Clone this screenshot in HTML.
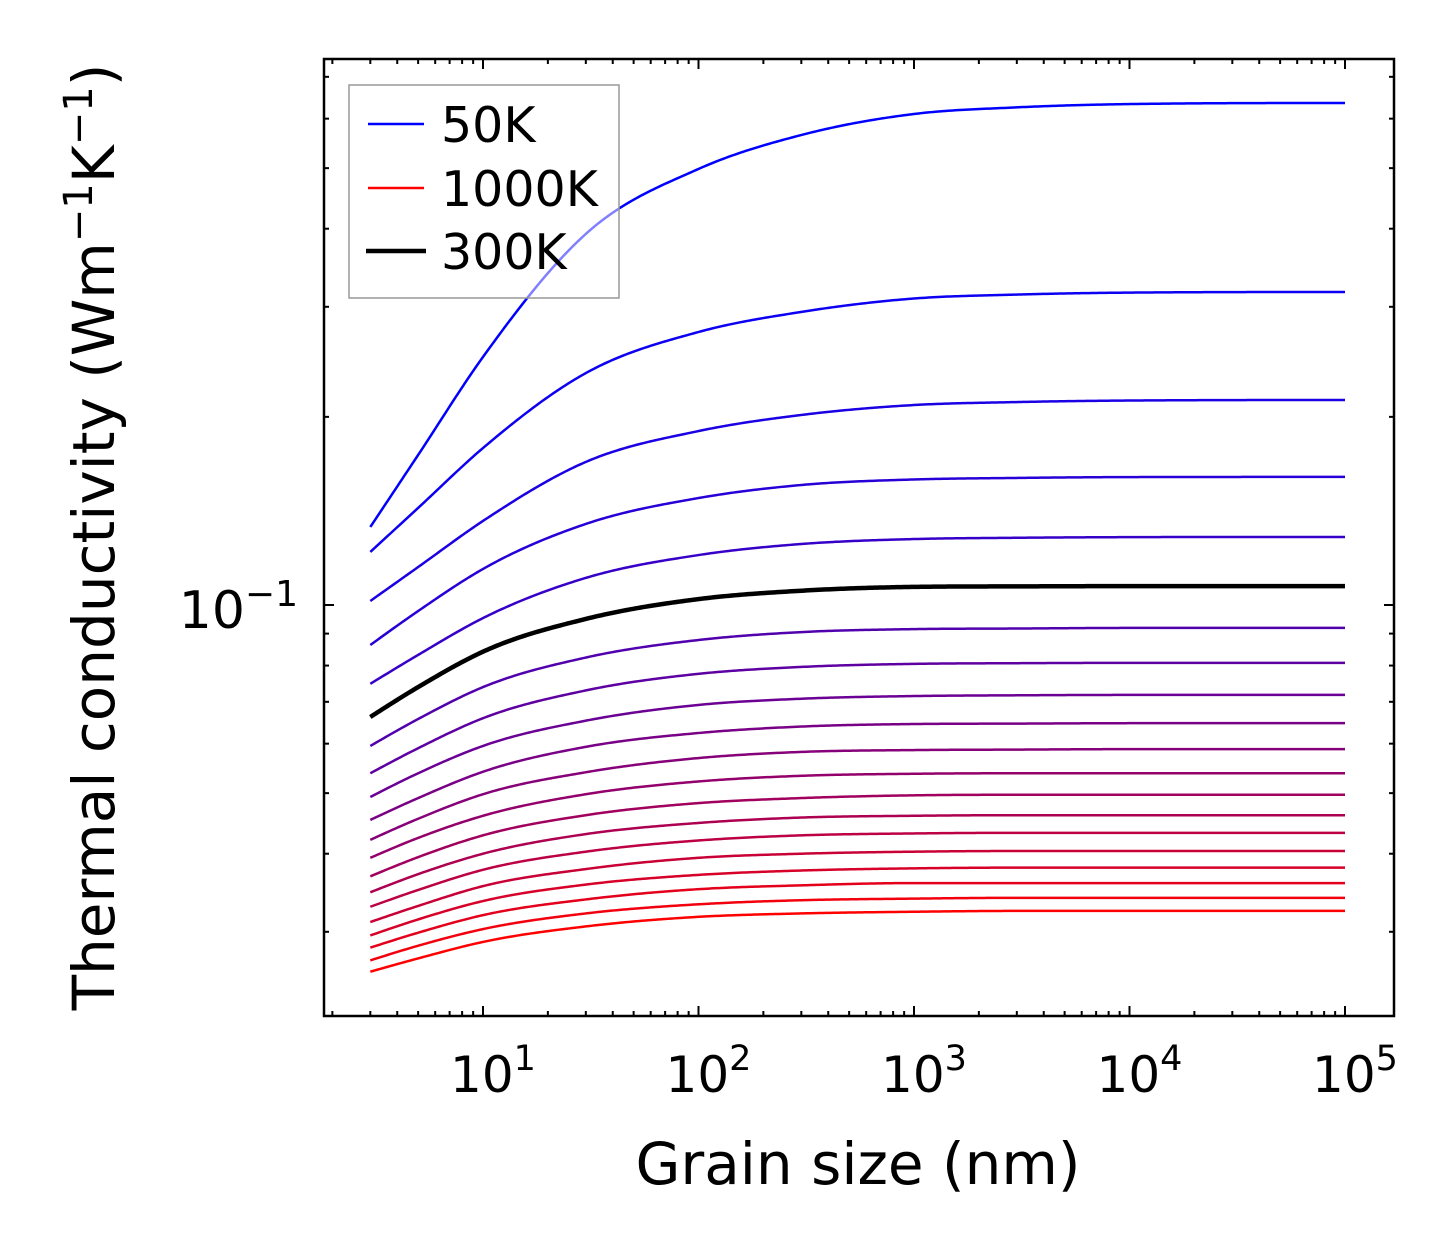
<!DOCTYPE html>
<html><head><meta charset="utf-8">
<style>
html,body{margin:0;padding:0;background:#fff;}
svg text{font-family:"DejaVu Sans","Liberation Sans",sans-serif;fill:#000;}
</style></head>
<body>
<svg id="chart" width="1454" height="1254" viewBox="0 0 1454 1254" xmlns="http://www.w3.org/2000/svg">
  <rect x="0" y="0" width="1454" height="1254" fill="#fff"/>
  <g id="ticks"></g>
  <g id="curves"></g>
  <rect x="324" y="59" width="1070" height="957" fill="none" stroke="#000" stroke-width="2.5"/>
  <g id="xlabels" font-size="50" text-anchor="middle"></g>
  <text x="298" y="628" font-size="52" text-anchor="end">10<tspan dy="-22" font-size="36">−1</tspan></text>
  <text x="858" y="1184" font-size="58" text-anchor="middle">Grain size (nm)</text>
  <text transform="translate(114,537) rotate(-90)" font-size="58" text-anchor="middle">Thermal conductivity (Wm<tspan dy="-22" font-size="40">−1</tspan><tspan dy="22">K</tspan><tspan dy="-22" font-size="40">−1</tspan><tspan dy="22">)</tspan></text>
  <g>
    <rect x="349" y="85" width="270" height="213" fill="#fff" fill-opacity="0.5" stroke="#999" stroke-width="1.5"/>
    <line x1="368" y1="124" x2="424" y2="124" stroke="#0000ff" stroke-width="2.5"/>
    <text x="441" y="142" font-size="49">50K</text>
    <line x1="368" y1="188" x2="424" y2="188" stroke="#ff0000" stroke-width="2.5"/>
    <text x="441" y="206" font-size="49">1000K</text>
    <line x1="366" y1="251" x2="426" y2="251" stroke="#000" stroke-width="4.5"/>
    <text x="441" y="269" font-size="49">300K</text>
  </g>
</svg>
<script>
const grainSizes = [3, 5, 10, 30, 100, 300, 1000, 3000, 10000, 100000];
const temperatures = [50,100,150,200,250,300,350,400,450,500,550,600,650,700,750,800,850,900,950,1000];
const k50 = [0.1333,0.1738,0.2494,0.3924,0.4985,0.5649,0.6104,0.6255,0.6331,0.6356];
const k100 = [0.1216,0.1430,0.1783,0.2350,0.2734,0.2944,0.3093,0.3138,0.3161,0.3168];
const k150 = [0.1015,0.1150,0.1363,0.1694,0.1898,0.2014,0.2089,0.2112,0.2124,0.2128];
const k200 = [0.0863,0.0978,0.1142,0.1348,0.1483,0.1556,0.1588,0.1597,0.1602,0.1603];
const k250 = [0.0748,0.0832,0.0953,0.1105,0.1202,0.1252,0.1275,0.1281,0.1284,0.1285];
const k300 = [0.0662,0.0739,0.0842,0.0950,0.1022,0.1054,0.1069,0.1071,0.1072,0.1072];
const k350 = [0.0595,0.0657,0.0739,0.0824,0.0879,0.0905,0.0915,0.0917,0.0919,0.0919];
const k400 = [0.0538,0.0590,0.0659,0.0730,0.0776,0.0796,0.0805,0.0807,0.0808,0.0808];
const k450 = [0.0493,0.0538,0.0595,0.0653,0.0692,0.0708,0.0715,0.0717,0.0718,0.0718];
const k500 = [0.0453,0.0491,0.0541,0.0593,0.0624,0.0639,0.0645,0.0646,0.0647,0.0647];
const k550 = [0.0421,0.0455,0.0498,0.0540,0.0569,0.0582,0.0586,0.0587,0.0588,0.0588];
const k600 = [0.0394,0.0424,0.0460,0.0498,0.0522,0.0533,0.0537,0.0538,0.0538,0.0538];
const k650 = [0.0368,0.0395,0.0428,0.0461,0.0482,0.0491,0.0496,0.0497,0.0497,0.0497];
const k700 = [0.0347,0.0371,0.0400,0.0430,0.0448,0.0457,0.0460,0.0461,0.0461,0.0461];
const k750 = [0.0329,0.0350,0.0377,0.0403,0.0420,0.0428,0.0431,0.0432,0.0432,0.0432];
const k800 = [0.0311,0.0330,0.0355,0.0378,0.0394,0.0400,0.0403,0.0404,0.0404,0.0404];
const k850 = [0.0296,0.0314,0.0336,0.0357,0.0370,0.0376,0.0379,0.0380,0.0380,0.0380];
const k900 = [0.0283,0.0299,0.0319,0.0338,0.0351,0.0356,0.0359,0.0359,0.0359,0.0359];
const k950 = [0.0270,0.0285,0.0303,0.0321,0.0332,0.0337,0.0339,0.0340,0.0340,0.0340];
const k1000 = [0.0259,0.0272,0.0289,0.0306,0.0317,0.0321,0.0323,0.0324,0.0324,0.0324];
const series = [k50,k100,k150,k200,k250,k300,k350,k400,k450,k500,k550,k600,k650,k700,k750,k800,k850,k900,k950,k1000];
const highlightTemp = 300;
const xTickLabels = ["1","2","3","4","5"];

const NS = "http://www.w3.org/2000/svg";
const X0 = 483, XDEC = 215.5;
const Y0 = 605, YDEC = 625;
const L = 324, R = 1394, T = 59, B = 1016;
function xs(v){ return X0 + (Math.log10(v) - 1) * XDEC; }
function ys(v){ return Y0 - (Math.log10(v) + 1) * YDEC; }

const tg = document.getElementById('ticks');
function tick(x1,y1,x2,y2,w,name){
  const l = document.createElementNS(NS,'line');
  l.setAttribute('x1',x1);l.setAttribute('y1',y1);l.setAttribute('x2',x2);l.setAttribute('y2',y2);
  l.setAttribute('stroke','#000');l.setAttribute('stroke-width',w);
  
  
  tg.appendChild(l);
}
for (let e = 0; e <= 5; e++) {
  for (let m = 1; m <= 9; m++) {
    const v = m * Math.pow(10, e);
    const x = xs(v);
    if (x < L + 1 || x > R - 1) continue;
    const len = m === 1 ? 10 : 5;
    tick(x, B, x, B - len, 2, 'x-tick');
    tick(x, T, x, T + len, 2, 'x-tick-top');
  }
}
for (let e = -2; e <= -1; e++) {
  for (let m = 1; m <= 9; m++) {
    const v = m * Math.pow(10, e);
    const y = ys(v);
    if (y < T + 1 || y > B - 1) continue;
    const len = m === 1 ? 10 : 5;
    tick(L, y, L + len, y, 2, 'y-tick');
    tick(R, y, R - len, y, 2, 'y-tick-right');
  }
}
const xl = document.getElementById('xlabels');
xTickLabels.forEach((lab) => {
  const v = Math.pow(10, +lab);
  const t = document.createElementNS(NS,'text');
  t.setAttribute('x', xs(v) + 10);
  t.setAttribute('y', 1092);
  
  
  t.innerHTML = '10<tspan dy="-22" font-size="35">' + lab + '</tspan>';
  xl.appendChild(t);
});

function spline(xa, ya, n){
  const m = xa.length, d = [], h = [], s = [];
  for (let i = 0; i < m - 1; i++) { h.push(xa[i+1]-xa[i]); d.push((ya[i+1]-ya[i])/h[i]); }
  s.push(d[0] + (d[0] - (h[1]*d[0] + h[0]*d[1])/(h[0]+h[1])) * 0.5);
  for (let i = 1; i < m - 1; i++) {
    if (d[i-1]*d[i] <= 0) { s.push(0); continue; }
    s.push((h[i]*d[i-1] + h[i-1]*d[i])/(h[i-1]+h[i]));
  }
  s.push(0);
  for (let i = 0; i < m - 1; i++) {
    if (d[i] === 0) { s[i] = 0; s[i+1] = 0; continue; }
    const a = s[i]/d[i], b = s[i+1]/d[i], q = a*a + b*b;
    if (q > 9) { const t = 3/Math.sqrt(q); s[i] = t*a*d[i]; s[i+1] = t*b*d[i]; }
  }
  const pts = [];
  for (let k = 0; k <= n; k++) {
    const x = xa[0] + (xa[m-1]-xa[0]) * k / n;
    let i = 0; while (i < m - 2 && x > xa[i+1]) i++;
    const hh = h[i], t = (x - xa[i]) / hh;
    const h00 = 2*t*t*t - 3*t*t + 1, h10 = t*t*t - 2*t*t + t, h01 = -2*t*t*t + 3*t*t, h11 = t*t*t - t*t;
    pts.push([x, h00*ya[i] + h10*hh*s[i] + h01*ya[i+1] + h11*hh*s[i+1]]);
  }
  return pts;
}
const cg = document.getElementById('curves');
const lx = grainSizes.map(Math.log10);
function drawCurve(vals, color, w, name){
  const pts = spline(lx, vals.map(Math.log10), 400);
  const d = pts.map((p,i) => (i ? 'L' : 'M') + xs(Math.pow(10,p[0])).toFixed(2) + ',' + ys(Math.pow(10,p[1])).toFixed(2)).join('');
  const path = document.createElementNS(NS,'path');
  path.setAttribute('d', d);
  path.setAttribute('fill','none');
  path.setAttribute('stroke', color);
  path.setAttribute('stroke-width', w);
  path.setAttribute('stroke-linejoin', 'round');
  
  
  cg.appendChild(path);
}
const nT = series.length;
series.forEach((vals, i) => {
  const f = i / (nT - 1);
  const col = 'rgb(' + Math.round(255*f) + ',0,' + Math.round(255*(1-f)) + ')';
  drawCurve(vals, col, 2.5, 'curve-' + temperatures[i] + 'k');
});
const hi = temperatures.indexOf(highlightTemp);
drawCurve(series[hi], '#000', 4.5, 'curve-300k-highlight');
</script>
</body></html>
